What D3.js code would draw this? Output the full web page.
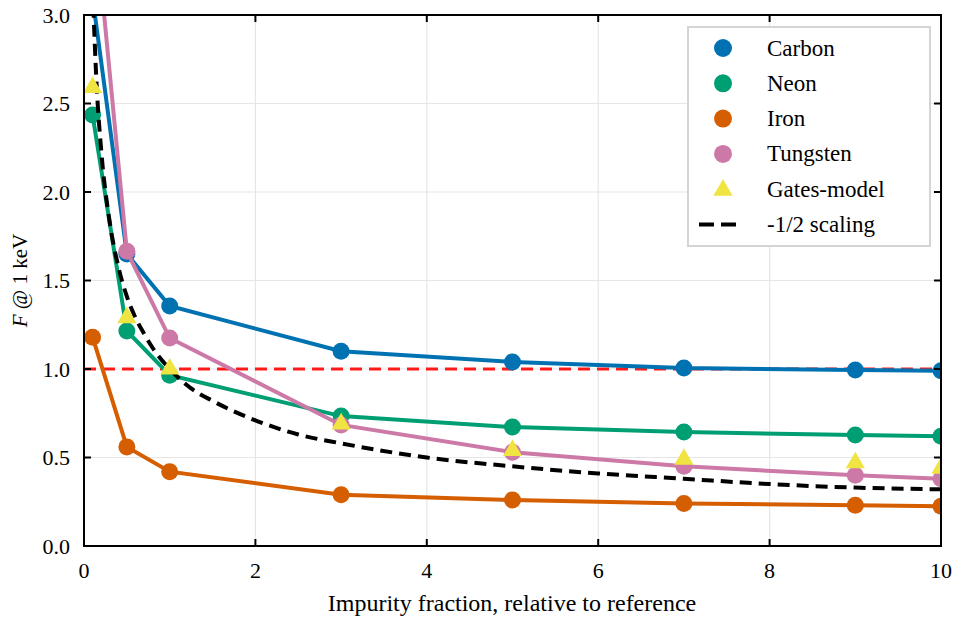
<!DOCTYPE html>
<html>
<head>
<meta charset="utf-8">
<script src="https://cdn.jsdelivr.net/npm/d3@7"></script>
<style>
  body { margin: 0; background: #fff; }
</style>
</head>
<body>
<script>
// impurity fractions
const xVals = [0.1, 0.5, 1, 3, 5, 7, 9, 10];
const carbon = [3.1, 1.65, 1.356, 1.10, 1.04, 1.006, 0.994, 0.99];
const neon = [2.435, 1.215, 0.965, 0.734, 0.672, 0.644, 0.627, 0.62];
const iron = [1.18, 0.56, 0.42, 0.29, 0.26, 0.24, 0.23, 0.225];
const tungsten = [3.68, 1.665, 1.175, 0.684, 0.53, 0.45, 0.40, 0.38];
const gates = [2.59, 1.29, 1.0, 0.69, 0.54, 0.49, 0.47, 0.44];
// dashed -1/2 scaling curve
const scalX = [0.1, 0.15, 0.2, 0.3, 0.4, 0.5, 0.6, 0.7, 0.8, 1, 1.25, 1.5, 2, 2.5, 3, 4, 5, 6, 7, 8, 9, 10];
const scalY = [3.16, 2.58, 2.24, 1.83, 1.58, 1.41, 1.29, 1.2, 1.12, 1.0, 0.89, 0.82, 0.71, 0.63, 0.58, 0.5, 0.45, 0.41, 0.38, 0.35, 0.33, 0.32];
const refLevel = 1.0;
const xTicks = [0, 2, 4, 6, 8, 10];
const yTicks = [0, 0.5, 1, 1.5, 2, 2.5, 3];

const W = 956, H = 619;
const pl = 84, pr = 941, pt = 15, pb = 546;
const FONT = "'Liberation Serif', 'DejaVu Serif', 'Times New Roman', serif";

const svg = d3.select("body").append("svg").attr("width", W).attr("height", H)
  .style("font-family", FONT);

const x = d3.scaleLinear().domain([0, 10]).range([pl, pr]);
const y = d3.scaleLinear().domain([0, 3]).range([pb, pt]);

// grid
svg.append("g").selectAll("line").data(xTicks).enter().append("line")
  .attr("x1", d => x(d)).attr("x2", d => x(d)).attr("y1", pt).attr("y2", pb)
  .attr("stroke", "#e6e6e6").attr("stroke-width", 1.2);
svg.append("g").selectAll("line").data(yTicks).enter().append("line")
  .attr("x1", pl).attr("x2", pr).attr("y1", d => y(d)).attr("y2", d => y(d))
  .attr("stroke", "#e6e6e6").attr("stroke-width", 1.2);

svg.append("clipPath").attr("id", "clip").append("rect")
  .attr("x", pl).attr("y", pt).attr("width", pr - pl).attr("height", pb - pt);

const plot = svg.append("g").attr("clip-path", "url(#clip)");

// reference line
plot.append("line")
  .attr("x1", x(0)).attr("x2", x(10)).attr("y1", y(refLevel)).attr("y2", y(refLevel))
  .attr("stroke", "#ff1a1a").attr("stroke-width", 3.2).attr("stroke-dasharray", "12,7");

const line = d3.line().x(d => x(d[0])).y(d => y(d[1]));

const series = [
  { name: "Carbon", vals: carbon, color: "#0072B2" },
  { name: "Neon", vals: neon, color: "#009E73" },
  { name: "Iron", vals: iron, color: "#D55E00" },
  { name: "Tungsten", vals: tungsten, color: "#CC79A7" }
];

series.forEach(s => {
  const pts = xVals.map((v, i) => [v, s.vals[i]]);
  plot.append("path").datum(pts)
    .attr("d", line).attr("fill", "none")
    .attr("stroke", s.color).attr("stroke-width", 4);
  plot.selectAll(null).data(pts).enter().append("circle")
    .attr("cx", d => x(d[0])).attr("cy", d => y(d[1])).attr("r", 8.5)
    .attr("fill", s.color);
});

// scaling curve
const scalPts = scalX.map((v, i) => [v, scalY[i]]);
plot.append("path").datum(scalPts)
  .attr("d", d3.line().x(d => x(d[0])).y(d => y(d[1])).curve(d3.curveMonotoneX))
  .attr("fill", "none").attr("stroke", "#000").attr("stroke-width", 4)
  .attr("stroke-dasharray", "12,7");

const tri = d3.symbol().type(d3.symbolTriangle).size(160);
plot.selectAll(null).data(xVals.map((v, i) => [v, gates[i]])).enter().append("path")
  .attr("d", tri)
  .attr("transform", d => "translate(" + x(d[0]) + "," + y(d[1]) + ")")
  .attr("fill", "#F0E442");

// frame + ticks
svg.append("rect").attr("x", pl).attr("y", pt).attr("width", pr - pl).attr("height", pb - pt)
  .attr("fill", "none").attr("stroke", "#000").attr("stroke-width", 2);

const tl = 7;
const tk = svg.append("g").attr("stroke", "#000").attr("stroke-width", 2);
xTicks.forEach(t => {
  tk.append("line").attr("x1", x(t)).attr("x2", x(t)).attr("y1", pb).attr("y2", pb - tl);
  tk.append("line").attr("x1", x(t)).attr("x2", x(t)).attr("y1", pt).attr("y2", pt + tl);
});
yTicks.forEach(t => {
  tk.append("line").attr("x1", pl).attr("x2", pl + tl).attr("y1", y(t)).attr("y2", y(t));
  tk.append("line").attr("x1", pr).attr("x2", pr - tl).attr("y1", y(t)).attr("y2", y(t));
});

svg.append("g").selectAll("text").data(xTicks).enter().append("text")
  .attr("x", d => x(d)).attr("y", 578).attr("text-anchor", "middle")
  .attr("font-size", 22).text(d => d);
svg.append("g").selectAll("text").data(yTicks).enter().append("text")
  .attr("x", 70).attr("y", d => y(d) + 7.5).attr("text-anchor", "end")
  .attr("font-size", 22).text(d => d.toFixed(1));

svg.append("text").attr("x", (pl + pr) / 2 - 0.5).attr("y", 611)
  .attr("text-anchor", "middle").attr("font-size", 24)
  .text("Impurity fraction, relative to reference");

const yl = svg.append("text").attr("transform", "translate(27," + ((pt + pb) / 2) + ") rotate(-90)")
  .attr("text-anchor", "middle").attr("font-size", 21);
yl.append("tspan").attr("font-style", "italic").text("F");
yl.append("tspan").text(" @ 1 keV");

// legend
const lg = svg.append("g");
lg.append("rect").attr("x", 688).attr("y", 27).attr("width", 242).attr("height", 219)
  .attr("fill", "#fff").attr("stroke", "#d4d4d4").attr("stroke-width", 2);
const items = series.map(s => ({ name: s.name, color: s.color, kind: "circle" }))
  .concat([{ name: "Gates-model", color: "#F0E442", kind: "tri" },
           { name: "-1/2 scaling", color: "#000", kind: "dash" }]);
items.forEach((it, i) => {
  const cy = 48 + i * 35.3;
  if (it.kind === "circle") {
    lg.append("circle").attr("cx", 723).attr("cy", cy).attr("r", 9).attr("fill", it.color);
  } else if (it.kind === "tri") {
    lg.append("path").attr("d", tri).attr("transform", "translate(723," + (cy + 1) + ")").attr("fill", it.color);
  } else {
    lg.append("line").attr("x1", 699).attr("x2", 743).attr("y1", cy).attr("y2", cy)
      .attr("stroke", "#000").attr("stroke-width", 4).attr("stroke-dasharray", "15,7");
  }
  lg.append("text").attr("x", 767).attr("y", cy + 7.5).attr("font-size", 23).text(it.name);
});
</script>
</body>
</html>
